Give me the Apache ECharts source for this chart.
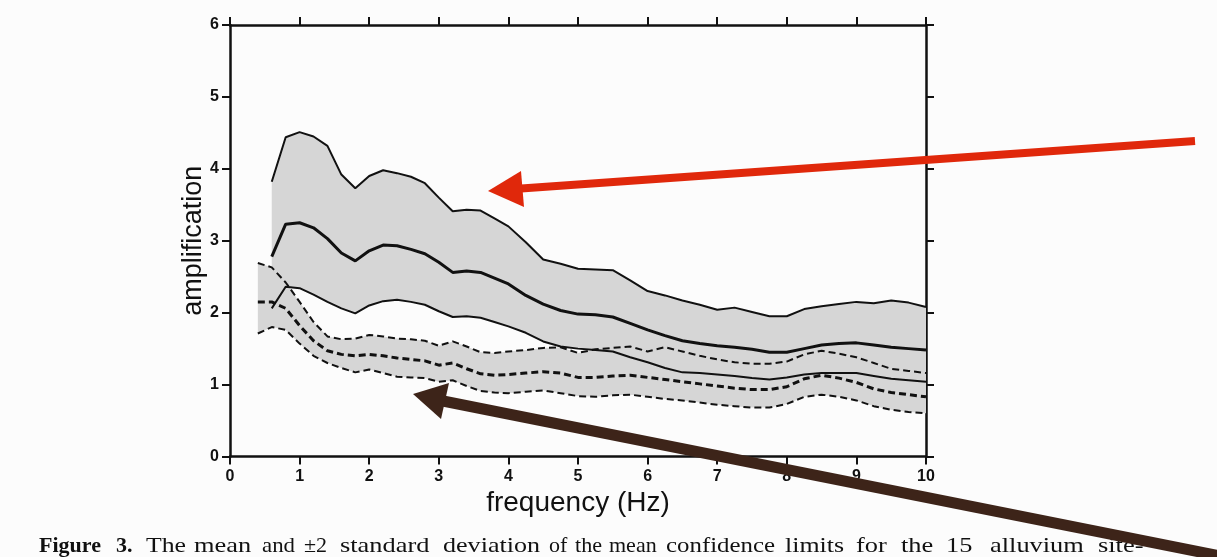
<!DOCTYPE html>
<html>
<head>
<meta charset="utf-8">
<script src="https://cdn.jsdelivr.net/npm/echarts@6/dist/echarts.min.js"></script>
<style>
html,body{margin:0;padding:0;background:#fcfcfc;}
#chart{width:1217px;height:557px;}
</style>
</head>
<body>
<div id="chart"></div>
<script>
// ---- data ----
const freqSolid = [0.6,0.8,1.0,1.2,1.4,1.6,1.8,2.0,2.2,2.4,2.6,2.8,3.0,3.2,3.4,3.6,3.8,4.0,
  4.25,4.5,4.75,5.0,5.25,5.5,5.75,6.0,6.25,6.5,6.75,7.0,7.25,7.5,7.75,8.0,8.25,8.5,8.75,9.0,9.25,9.5,9.75,10];
const solidUpper = [3.82,4.44,4.51,4.45,4.32,3.92,3.73,3.90,3.98,3.94,3.89,3.80,3.60,3.41,3.43,3.42,3.31,3.20,
  2.98,2.74,2.68,2.61,2.60,2.59,2.45,2.30,2.24,2.17,2.11,2.04,2.07,2.01,1.95,1.95,2.05,2.09,2.12,2.15,2.13,2.17,2.14,2.08];
const solidMean = [2.78,3.23,3.25,3.18,3.03,2.83,2.72,2.86,2.94,2.93,2.88,2.82,2.70,2.56,2.58,2.56,2.48,2.40,
  2.24,2.12,2.03,1.98,1.97,1.94,1.85,1.76,1.68,1.61,1.57,1.54,1.52,1.49,1.45,1.45,1.50,1.55,1.57,1.58,1.55,1.52,1.50,1.48];
const solidLower = [2.06,2.36,2.34,2.25,2.15,2.06,1.99,2.10,2.16,2.18,2.15,2.11,2.02,1.94,1.95,1.93,1.87,1.81,
  1.72,1.60,1.53,1.50,1.48,1.46,1.38,1.31,1.23,1.17,1.16,1.14,1.12,1.09,1.07,1.10,1.14,1.16,1.16,1.16,1.12,1.08,1.06,1.04];

const freqDashed = [0.4,0.6,0.8,1.0,1.2,1.4,1.6,1.8,2.0,2.2,2.4,2.6,2.8,3.0,3.2,3.4,3.6,3.8,4.0,
  4.25,4.5,4.75,5.0,5.25,5.5,5.75,6.0,6.25,6.5,6.75,7.0,7.25,7.5,7.75,8.0,8.25,8.5,8.75,9.0,9.25,9.5,9.75,10];
const dashedUpper = [2.69,2.63,2.42,2.15,1.87,1.67,1.63,1.64,1.69,1.67,1.64,1.63,1.61,1.54,1.60,1.53,1.45,1.44,1.46,
  1.48,1.51,1.52,1.44,1.49,1.51,1.53,1.46,1.52,1.46,1.40,1.35,1.31,1.29,1.29,1.32,1.42,1.47,1.43,1.38,1.30,1.22,1.19,1.16];
const dashedMean = [2.15,2.15,2.06,1.82,1.61,1.47,1.42,1.40,1.42,1.40,1.37,1.35,1.33,1.27,1.30,1.22,1.15,1.13,1.14,
  1.16,1.18,1.16,1.10,1.10,1.12,1.13,1.10,1.07,1.04,1.01,0.98,0.95,0.93,0.93,0.97,1.08,1.13,1.09,1.03,0.94,0.89,0.86,0.83];
const dashedLower = [1.71,1.80,1.76,1.57,1.40,1.30,1.23,1.17,1.21,1.16,1.11,1.10,1.09,1.04,1.06,0.98,0.91,0.89,0.88,
  0.90,0.92,0.88,0.84,0.83,0.85,0.86,0.83,0.80,0.78,0.75,0.72,0.70,0.68,0.68,0.73,0.83,0.86,0.83,0.78,0.70,0.65,0.62,0.60];

const xTicks = [0,1,2,3,4,5,6,7,8,9,10];
const yTicks = [0,1,2,3,4,5,6];
const xTitle = 'frequency (Hz)';
const yTitle = 'amplification';
const captionWords = ['Figure','3.','The','mean','and','±2','standard','deviation','of','the','mean',
  'confidence','limits','for','the','15','alluvium','site-'];
const captionBold = [true,true,false,false,false,false,false,false,false,false,false,false,false,false,false,false,false,false];

// ---- layout: left / right pixel edges of the caption words ----
const captionLeft  = [39,116,146,194,262,304,340,443,549,575,609,666,785,856,901,946,990,1098];
const captionRight = [102,131,186,252,295,327,435,540,565,602,655,775,844,891,934,974,1086,1159];

const pair = (xs, ys) => xs.map((x, i) => [x, ys[i]]);

const FILL = '#d6d6d6';
function bandSeries(xs, lo, hi) {
  return {
    type: 'custom', coordinateSystem: 'cartesian2d', silent: true, z: 1,
    data: [[xs[0], lo[0]]],
    renderItem: function (params, api) {
      const pts = [];
      for (let i = 0; i < xs.length; i++) pts.push(api.coord([xs[i], hi[i]]));
      for (let i = xs.length - 1; i >= 0; i--) pts.push(api.coord([xs[i], lo[i]]));
      return { type: 'polygon', shape: { points: pts }, style: { fill: FILL, stroke: null } };
    }
  };
}
function lineSeries(xs, ys, width, dashed) {
  return { type: 'line', data: pair(xs, ys), symbol: 'none', silent: true, z: 3,
    lineStyle: { color: '#111', width: width, type: dashed ? [7, 4] : 'solid' } };
}

const axisLine = { show: true, onZero: false, lineStyle: { color: '#111', width: 2.5 } };
const tickOut = { show: true, inside: false, length: 8, lineStyle: { color: '#111', width: 2 } };
const SANS = '"Liberation Sans", Arial, sans-serif';
const labelFont = { color: '#111', fontSize: 16, fontWeight: 'bold', fontFamily: SANS };

// measure caption words to fit their slots
const mctx = document.createElement('canvas').getContext('2d');
const graphics = [];
// red arrow
graphics.push({ type: 'line', shape: { x1: 1195, y1: 141, x2: 514, y2: 189 }, style: { stroke: '#e0280b', lineWidth: 8 }, z: 100 });
graphics.push({ type: 'polygon', shape: { points: [[488, 191], [521, 171], [524, 207]] }, style: { fill: '#e0280b' }, z: 100 });
// brown arrow
graphics.push({ type: 'line', shape: { x1: 438, y1: 400, x2: 1235, y2: 559 }, style: { stroke: '#3d2419', lineWidth: 11 }, z: 100 });
graphics.push({ type: 'polygon', shape: { points: [[413, 394], [449, 383], [441, 419]] }, style: { fill: '#3d2419' }, z: 100 });
// caption
captionWords.forEach((w, i) => {
  const font = (captionBold[i] ? 'bold ' : '') + '22px "Liberation Serif", "Times New Roman", serif';
  mctx.font = font;
  const measured = mctx.measureText(w).width || 1;
  let sx = (captionRight[i] - captionLeft[i]) / measured;
  sx = captionBold[i] ? 1 : Math.max(1.0, Math.min(1.2, sx));
  graphics.push({
    type: 'text', x: captionLeft[i], y: 546, scaleX: sx, z: 90,
    style: {
      text: w, fill: '#111', font: font,
      align: 'left', textAlign: 'left', verticalAlign: 'middle', textVerticalAlign: 'middle'
    }
  });
});

const option = {
  animation: false,
  backgroundColor: '#fcfcfc',
  grid: { left: 230, right: 291, top: 25, bottom: 100.5, containLabel: false },
  xAxis: [
    { type: 'value', position: 'bottom', min: xTicks[0], max: xTicks[xTicks.length - 1], interval: 1,
      axisLine: axisLine, axisTick: tickOut, splitLine: { show: false },
      axisLabel: Object.assign({ margin: 12 }, labelFont),
      name: xTitle, nameLocation: 'middle', nameGap: 33, nameMoveOverlap: false,
      nameTextStyle: { color: '#111', fontSize: 28, fontFamily: SANS } },
    { type: 'value', position: 'top', min: xTicks[0], max: xTicks[xTicks.length - 1], interval: 1,
      axisLine: axisLine, axisTick: tickOut, splitLine: { show: false }, axisLabel: { show: false } }
  ],
  yAxis: [
    { type: 'value', position: 'left', min: yTicks[0], max: yTicks[yTicks.length - 1], interval: 1,
      axisLine: axisLine, axisTick: tickOut, splitLine: { show: false },
      axisLabel: Object.assign({ margin: 11 }, labelFont),
      name: yTitle, nameLocation: 'middle', nameGap: 23, nameRotate: 90, nameMoveOverlap: false,
      nameTextStyle: { color: '#111', fontSize: 27, fontFamily: SANS } },
    { type: 'value', position: 'right', min: yTicks[0], max: yTicks[yTicks.length - 1], interval: 1,
      axisLine: axisLine, axisTick: tickOut, splitLine: { show: false }, axisLabel: { show: false } }
  ],
  series: [
    bandSeries(freqSolid, solidLower, solidUpper),
    bandSeries(freqDashed, dashedLower, dashedUpper),
    lineSeries(freqSolid, solidUpper, 2, false),
    lineSeries(freqSolid, solidMean, 3, false),
    lineSeries(freqSolid, solidLower, 2, false),
    lineSeries(freqDashed, dashedUpper, 2, true),
    lineSeries(freqDashed, dashedMean, 3, true),
    lineSeries(freqDashed, dashedLower, 2, true)
  ],
  graphic: graphics
};

const chart = echarts.init(document.getElementById('chart'), null, { renderer: 'canvas' });
chart.setOption(option);
</script>
</body>
</html>
